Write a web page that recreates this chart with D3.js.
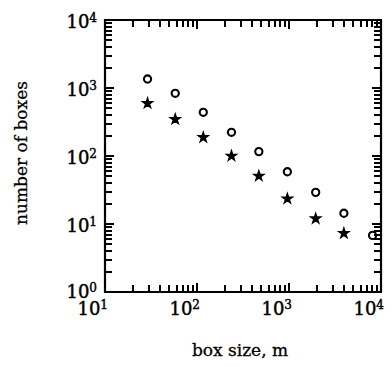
<!DOCTYPE html>
<html>
<head>
<meta charset="utf-8">
<script src="https://cdn.jsdelivr.net/npm/d3@7"></script>
<style>
  html, body { margin: 0; padding: 0; background: #fff; }
  svg { display: block; }
</style>
</head>
<body>
<svg id="chart" width="392" height="367"></svg>
<script>
// ---- data ----
const boxSize    = [29, 58, 117, 237, 470, 960, 1950, 3950, 8100];
const countOpen  = [1356, 836, 439, 223, 116, 58.7, 29.2, 14.4, 6.8];
const countStar  = [596, 347, 188, 100, 50.8, 23.5, 12, 7.3];
const xTickExp   = [1, 2, 3, 4];
const yTickExp   = [0, 1, 2, 3, 4];
const xTitle = "box size, m";
const yTitle = "number of boxes";

// ---- layout ----
const svg = d3.select("#chart");
const pL = 105, pR = 381, pT = 20, pB = 292;
const x = d3.scaleLog().domain([10, 10000]).range([pL, pR]);
const y = d3.scaleLog().domain([1, 10000]).range([pB, pT]);

// frame
svg.append("path")
  .attr("d", `M${pL},${pT}H${pR}V${pB}H${pL}Z`)
  .attr("fill", "none").attr("stroke", "#000").attr("stroke-width", 2.2);

const ticksX = [], ticksY = [];
for (let e = 1; e <= 4; e++) for (let m = 1; m <= 9; m++) {
  if (e === 4 && m > 1) break;
  ticksX.push({ v: m * Math.pow(10, e), len: m === 1 ? 9 : 7 });
}
for (let e = 0; e <= 4; e++) for (let m = 1; m <= 9; m++) {
  if (e === 4 && m > 1) break;
  ticksY.push({ v: m * Math.pow(10, e), len: m === 1 ? 9 : 7 });
}

// tick marks, inward on all four sides (snapped to whole pixels)
const sx = v => Math.round(x(v));
const sy = v => Math.round(y(v));
const tg = svg.append("g").attr("stroke", "#000").attr("stroke-width", 2).attr("fill", "none");
tg.selectAll("line.tb").data(ticksX).join("line").attr("class", "tb")
  .attr("x1", d => sx(d.v)).attr("x2", d => sx(d.v))
  .attr("y1", pB).attr("y2", d => pB - d.len);
tg.selectAll("line.tt").data(ticksX).join("line").attr("class", "tt")
  .attr("x1", d => sx(d.v)).attr("x2", d => sx(d.v))
  .attr("y1", pT).attr("y2", d => pT + d.len);
tg.selectAll("line.tl").data(ticksY).join("line").attr("class", "tl")
  .attr("y1", d => sy(d.v)).attr("y2", d => sy(d.v))
  .attr("x1", pL).attr("x2", d => pL + d.len);
tg.selectAll("line.tr").data(ticksY).join("line").attr("class", "tr")
  .attr("y1", d => sy(d.v)).attr("y2", d => sy(d.v))
  .attr("x1", pR).attr("x2", d => pR - d.len);

// tick labels
const font = "'DejaVu Serif', 'Liberation Serif', serif";
function styleText(t, size) {
  return t.attr("font-family", font).attr("font-size", size)
    .attr("fill", "#000").attr("stroke", "#000").attr("stroke-width", 0.45);
}
xTickExp.forEach(e => {
  const t = styleText(svg.append("text"), 18)
    .attr("x", x(Math.pow(10, e)) + 3).attr("y", 315)
    .attr("text-anchor", "end");
  t.append("tspan").text("10");
  t.append("tspan").attr("font-size", 12).attr("dy", -6).text(e);
});
yTickExp.forEach(e => {
  const t = styleText(svg.append("text"), 18)
    .attr("x", 97).attr("y", Math.min(Math.max(y(Math.pow(10, e)) + 8, 21), 298))
    .attr("text-anchor", "end");
  t.append("tspan").text("10");
  t.append("tspan").attr("font-size", 12).attr("dy", -6).text(e);
});

// axis titles
styleText(svg.append("text"), 17)
  .attr("x", (pL + pR) / 2 - 3).attr("y", 356)
  .attr("text-anchor", "middle")
  .attr("stroke-width", 0.3)
  .text(xTitle);
styleText(svg.append("text"), 17)
  .attr("transform", `translate(27,${(pT + pB) / 2 - 3}) rotate(-90)`)
  .attr("text-anchor", "middle")
  .attr("stroke-width", 0.3)
  .text(yTitle);

// star markers
const star = d3.symbol().type(d3.symbolStar).size(34);
svg.append("g").selectAll("path")
  .data(countStar)
  .join("path")
  .attr("transform", (d, i) => `translate(${x(boxSize[i])},${y(d)})`)
  .attr("d", star)
  .attr("fill", "#000").attr("stroke", "#000").attr("stroke-width", 1.2);

// open circles
svg.append("g").selectAll("circle")
  .data(countOpen)
  .join("circle")
  .attr("cx", (d, i) => x(boxSize[i]))
  .attr("cy", d => y(d))
  .attr("r", 3.6)
  .attr("fill", "none").attr("stroke", "#000").attr("stroke-width", 2.1);
</script>
</body>
</html>
